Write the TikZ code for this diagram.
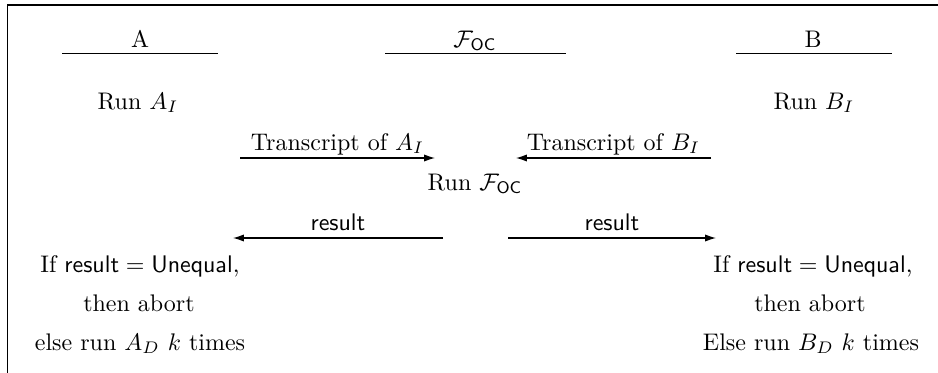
\documentclass[tikz,border=0pt]{standalone}
\usetikzlibrary{arrows.meta}
\begin{document}
\begin{tikzpicture}[x=0.4167pt,y=-0.4167pt,
  lbl/.style={anchor=base,inner sep=0pt},
  rulel/.style={line width=0.6pt},
  msg/.style={line width=0.5pt,-{Latex[length=4.5pt,width=3pt]}},
  frame/.style={line width=0.8pt}]
\useasboundingbox (0,0) rectangle (938,373);
\draw[frame] (7.5,373) -- (7.5,5) -- (938,5);
% headers
\node[lbl] (hA) at (140,47) {A};
\node[lbl] (hF) at (475,47) {$\mathcal{F}_{\mathsf{OC}}$};
\node[lbl] (hB) at (813,47) {B};
\coordinate (aL) at (62,53.5);  \coordinate (aR) at (218,53.5);
\coordinate (fL) at (385,53.5); \coordinate (fR) at (566,53.5);
\coordinate (bL) at (736,53.5); \coordinate (bR) at (892,53.5);
\draw[rulel] (aL) -- (aR);
\draw[rulel] (fL) -- (fR);
\draw[rulel] (bL) -- (bR);
% runs
\node[lbl] (runA) at (138,109) {Run $A_I$};
\node[lbl] (runB) at (814,109) {Run $B_I$};
\node[lbl] (runF) at (475,190) {Run $\mathcal{F}_{\mathsf{OC}}$};
% transcripts
\coordinate (ta1) at (240,158); \coordinate (ta2) at (435,158);
\coordinate (tb1) at (711,158); \coordinate (tb2) at (516,158);
\draw[msg] (ta1) -- (ta2);
\draw[msg] (tb1) -- (tb2);
\node[lbl] (tA) at (337.5,150) {Transcript of $A_I$};
\node[lbl] (tB) at (613.5,150) {Transcript of $B_I$};
% results
\coordinate (ra1) at (443,238); \coordinate (ra2) at (233,238);
\coordinate (rb1) at (508,238); \coordinate (rb2) at (716,238);
\draw[msg] (ra1) -- (ra2);
\draw[msg] (rb1) -- (rb2);
\node[lbl] (resA) at (338,230) {$\mathsf{result}$};
\node[lbl] (resB) at (612,230) {$\mathsf{result}$};
% outcomes
\node[lbl] (ifA) at (140,272) {If $\mathsf{result}=\mathsf{Unequal}$,};
\node[lbl] (abA) at (139,311) {then abort};
\node[lbl] (elA) at (140,350) {else run $A_D$ $k$ times};
\node[lbl] (ifB) at (813,272) {If $\mathsf{result}=\mathsf{Unequal}$,};
\node[lbl] (abB) at (810,311) {then abort};
\node[lbl] (elB) at (811,350) {Else run $B_D$ $k$ times};
\end{tikzpicture}
\end{document}
